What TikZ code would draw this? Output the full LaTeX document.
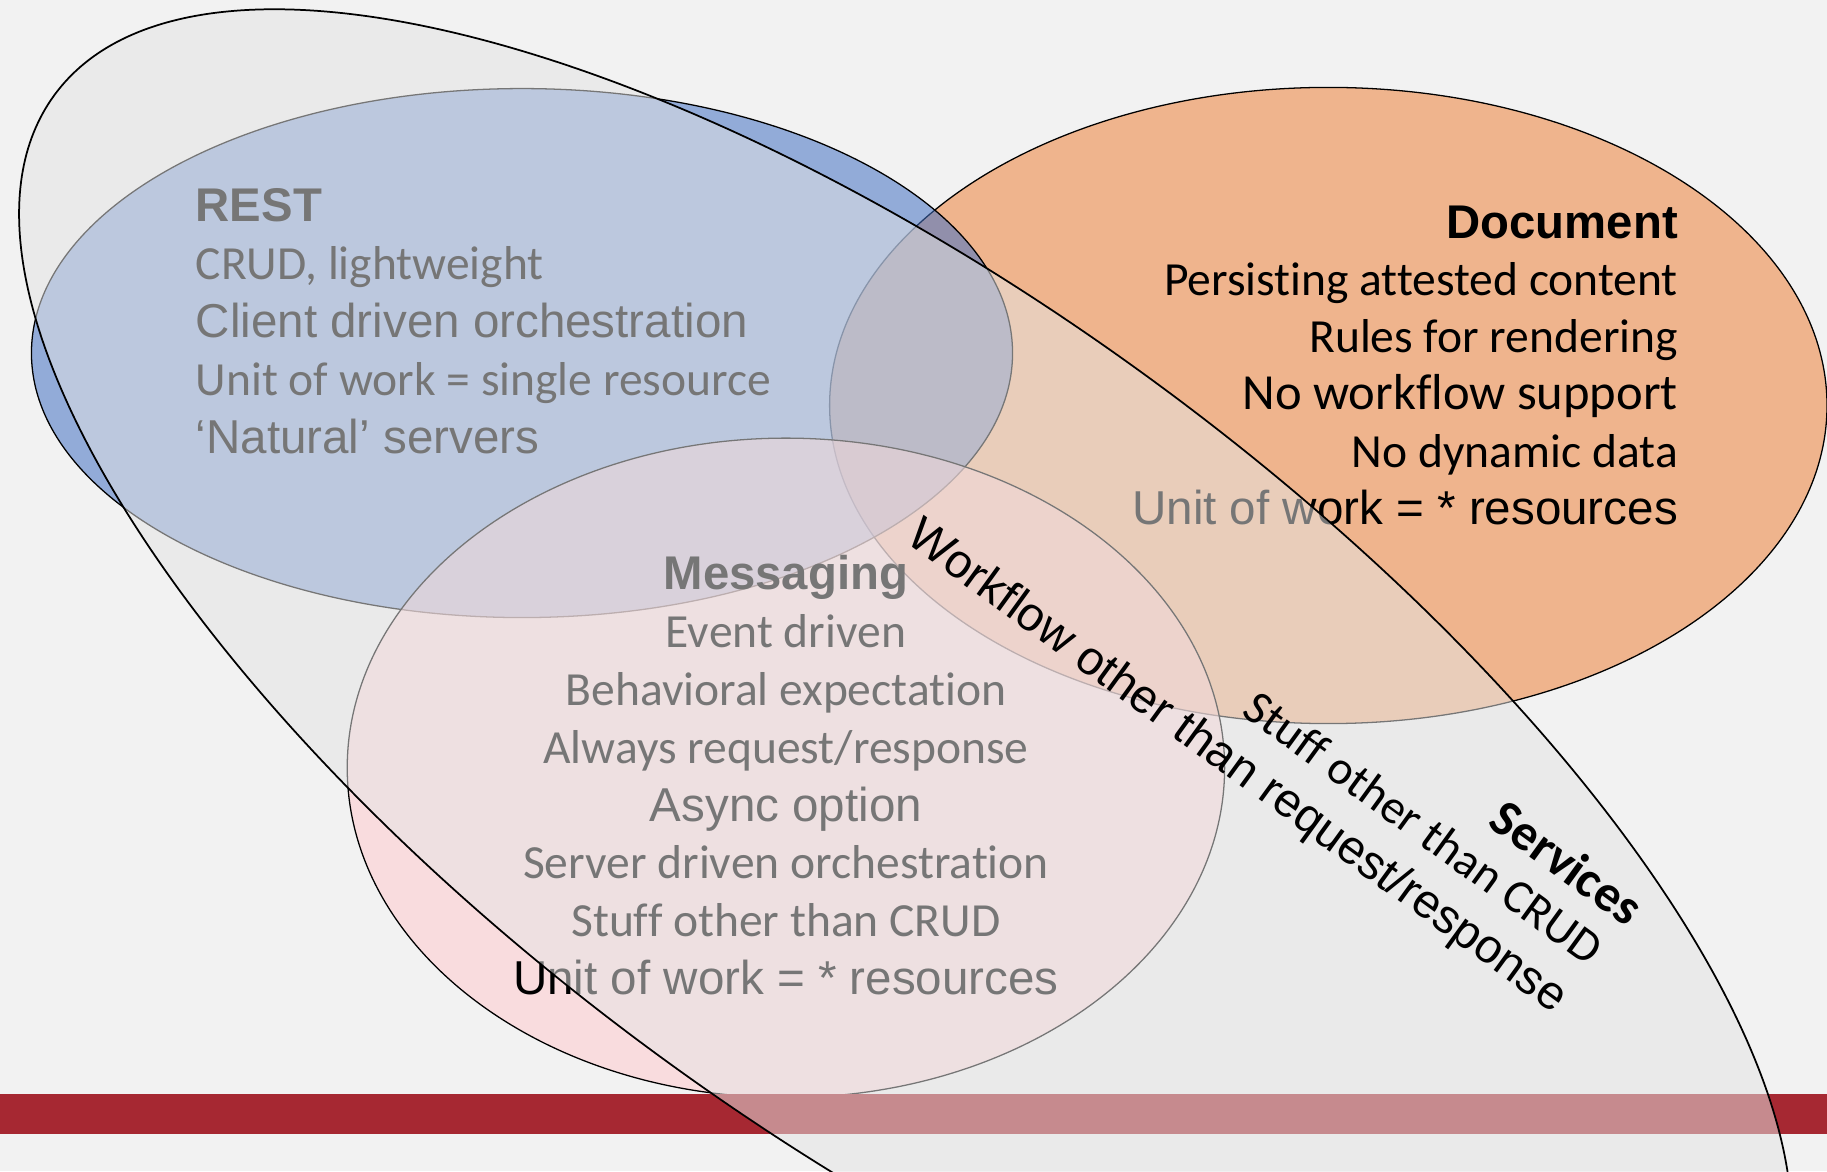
\documentclass[tikz,border=0pt]{standalone}
\usepackage{fontspec}
\setmainfont{Carlito}[Ligatures=NoCommon]
\newfontfamily\arialfont{Liberation Sans}
\usepackage{tikz}
\usetikzlibrary{positioning}

\definecolor{slidebg}{RGB}{242,242,242}
\definecolor{restblue}{RGB}{68,114,196}
\definecolor{docorange}{RGB}{237,125,49}
\definecolor{msgpink}{RGB}{255,204,208}
\definecolor{svcgray}{RGB}{228,228,228}
\definecolor{barred}{RGB}{166,40,50}

\begin{document}
\begin{tikzpicture}[
  x=1pt, y=-1pt,
  node distance=49.6pt,
  venn/.style={
    draw=black,
    line width=1.1pt
  },
  txt/.style={
    inner sep=0pt,
    outer sep=0pt,
    font=\fontsize{40.8}{49}\selectfont
  },
  arl/.style={
    txt,
    font=\fontsize{40.8}{49}\selectfont\arialfont
  },
  head/.style={
    txt,
    font=\fontsize{40.6}{49}\selectfont\arialfont\bfseries
  }
]

\useasboundingbox (0,0) rectangle (1568,1005);
\fill [slidebg] (0,0) rectangle (1568,1005);
\clip (0,0) rectangle (1568,1005);

% the three sets
\draw [venn, fill=docorange, fill opacity=0.52] (1140,348) ellipse [x radius=428pt, y radius=273pt];
\draw [venn, fill=restblue, fill opacity=0.55] (448,303) ellipse [x radius=421pt, y radius=227pt];
\draw [venn, fill=msgpink, fill opacity=0.57] (674.5,659) ellipse [x radius=376.5pt, y radius=283pt];

\fill [barred] (0,939) rectangle (1568,973);

% REST
\node [head, anchor=base west] (rest) at (168,190.5) {REST};
\node [txt, below=of rest.base west, anchor=base west] (rest1) {CRUD, lightweight};
\node [arl, below=of rest1.base west, anchor=base west] (rest2) {Client driven orchestration};
\node [txt, below=of rest2.base west, anchor=base west] (rest3) {Unit of work = single resource};
\node [arl, below=of rest3.base west, anchor=base west] (rest4) {‘Natural’ servers};

% Document
\node [head, anchor=base east] (doc) at (1440,204.4) {Document};
\node [txt, below=49.1pt of doc.base east, anchor=base east] (doc1) {Persisting attested content};
\node [txt, below=49.1pt of doc1.base east, anchor=base east] (doc2) {Rules for rendering};
\node [txt, font=\fontsize{43.4}{49}\selectfont, below=49.1pt of doc2.base east, anchor=base east] (doc3) {No workflow support};
\node [txt, below=49.1pt of doc3.base east, anchor=base east] (doc4) {No dynamic data};
\node [arl, below=49.1pt of doc4.base east, anchor=base east] (doc5) {Unit of work = * resources};

% Messaging
\node [head, anchor=base] (msg) at (674.5,506.2) {Messaging};
\node [txt, below=of msg.base, anchor=base] (msg1) {Event driven};
\node [txt, below=of msg1.base, anchor=base] (msg2) {Behavioral expectation};
\node [txt, below=of msg2.base, anchor=base] (msg3) {Always request/response};
\node [arl, below=of msg3.base, anchor=base] (msg4) {Async option};
\node [txt, below=of msg4.base, anchor=base] (msg5) {Server driven orchestration};
\node [txt, below=of msg5.base, anchor=base] (msg6) {Stuff other than CRUD};
\node [arl, below=of msg6.base, anchor=base] (msg7) {Unit of work = * resources};

% Services on top
\draw [venn, line width=1.5pt, fill=svcgray, fill opacity=0.52, rotate around={-36.2:(777,616)}] (777,616) ellipse [x radius=905pt, y radius=359pt];

\node [arl, rotate=-36] (flow) at (1061,659) {Workflow other than request/response};
\node [txt, rotate=-36] (stuff) at (1222,710) {Stuff other than CRUD};
\node [txt, font=\fontsize{44}{50}\selectfont\bfseries, rotate=-36] (svc) at (1345,740) {Services};

\end{tikzpicture}
\end{document}
